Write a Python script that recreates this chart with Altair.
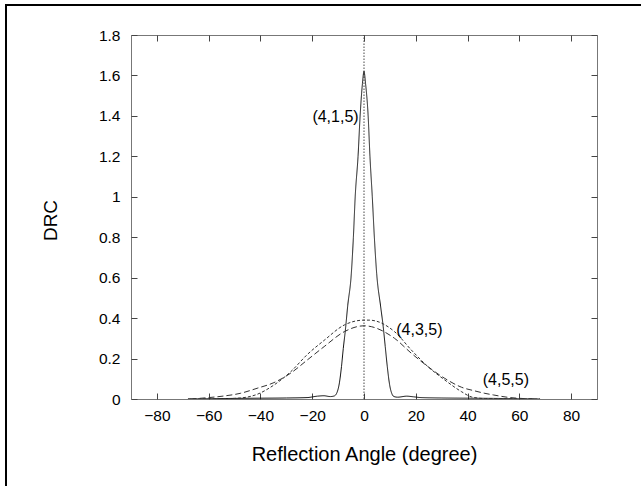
import altair as alt
import pandas as pd

# ---- data ----
series_names = ["(4,1,5)", "(4,3,5)", "(4,5,5)"]

angle_415 = [-68, -60, -50, -40, -30, -22, -18, -15.5, -13, -11.5, -10.5, -9.5, -8.7, -8, -7.2, -6.3,
             -4.9, -4.1, -3.4, -2.3, -1.5, -0.6, 0, 0.6, 1.6, 2.3, 3.2, 4.0, 4.9, 6.4, 7.4, 8.2, 9.0,
             9.9, 10.8, 11.6, 13, 16.5, 19, 22, 30, 40, 50, 60, 68]
drc_415 = [0, 0.001, 0.003, 0.004, 0.005, 0.007, 0.014, 0.016, 0.012, 0.015, 0.03, 0.08, 0.16, 0.25, 0.34, 0.46,
           0.62, 0.8, 1.0, 1.2, 1.4, 1.56, 1.62, 1.56, 1.4, 1.2, 1.0, 0.8, 0.62, 0.46, 0.36, 0.26, 0.16,
           0.07, 0.025, 0.012, 0.009, 0.014, 0.011, 0.007, 0.005, 0.004, 0.003, 0.001, 0]

angle_435 = [-68, -55, -47.8, -41.3, -34.8, -28.3, -21.9, -15.4, -7.6, 0, 2, 11.8, 18.3, 24.7, 31.2,
             37.7, 41.6, 47, 55, 68]
drc_435 = [0, 0.001, 0.005, 0.023, 0.069, 0.135, 0.22, 0.29, 0.366, 0.39, 0.39, 0.333, 0.242, 0.16, 0.094,
           0.036, 0.01, 0.002, 0.001, 0]

angle_455 = [-67, -60, -54, -47.8, -41.3, -34.8, -28.3, -21.9, -15.4, -7.6, 0, 11.8, 18.3, 24.7, 31.2,
             37.7, 42.8, 46.7, 50, 55.8, 62, 67]
drc_455 = [0, 0.007, 0.015, 0.028, 0.053, 0.081, 0.128, 0.193, 0.259, 0.333, 0.362, 0.30, 0.226, 0.16, 0.102,
           0.058, 0.04, 0.028, 0.02, 0.008, 0.002, 0]

label_text = ["(4,1,5)", "(4,3,5)", "(4,5,5)"]
label_angle = [-11, 21.4, 54.8]
label_drc = [1.395, 0.341, 0.094]

x_ticks = [-80, -60, -40, -20, 0, 20, 40, 60, 80]
y_ticks = [0, 0.2, 0.4, 0.6, 0.8, 1.0, 1.2, 1.4, 1.6, 1.8]

# ---- tables ----
rows = []
for name, xs, ys in zip(series_names, [angle_415, angle_435, angle_455], [drc_415, drc_435, drc_455]):
    for a, d in zip(xs, ys):
        rows.append({"series": name, "angle": a, "drc": d})
df = pd.DataFrame(rows)
labels_df = pd.DataFrame({"text": label_text, "angle": label_angle, "drc": label_drc})
zero_df = pd.DataFrame({"angle": [0], "lo": [0], "hi": [1.8]})

W, H = 466, 364
FONT = "Liberation Sans"

x_scale = alt.Scale(domain=[-90, 90], nice=False, zero=False)
y_scale = alt.Scale(domain=[0, 1.8], nice=False)

x_axis = alt.Axis(values=x_ticks, format="d", title="Reflection Angle (degree)",
                  ticks=False, tickSize=0, domain=False, labelPadding=9,
                  labelFont=FONT, labelFontSize=15.5, labelColor="black",
                  titleFont=FONT, titleFontSize=20, titleFontWeight="normal", titleColor="black",
                  titleY=55, titleBaseline="middle",
                  grid=True, gridColor="#444", gridWidth=1, gridDash=[6, H - 12, 6, 2000])
y_axis = alt.Axis(values=y_ticks, format="~g", title="DRC",
                  ticks=False, tickSize=0, domain=False, labelPadding=11,
                  labelFont=FONT, labelFontSize=15.5, labelColor="black",
                  titleFont=FONT, titleFontSize=19, titleFontWeight="normal", titleColor="black",
                  titleAngle=270, titleX=-81, titleY=185, titleAlign="center", titleBaseline="middle",
                  grid=True, gridColor="#444", gridWidth=1, gridDash=[6, W - 12, 6, 2000])

lines = alt.Chart(df).mark_line(strokeWidth=1, interpolate="monotone", clip=True).encode(
    x=alt.X("angle:Q", scale=x_scale, axis=x_axis),
    y=alt.Y("drc:Q", scale=y_scale, axis=y_axis),
    color=alt.Color("series:N", scale=alt.Scale(domain=series_names, range=["#111", "#333", "#333"]), legend=None),
    strokeDash=alt.StrokeDash("series:N",
                              scale=alt.Scale(domain=series_names, range=[[1, 0], [3, 2], [6, 3]]),
                              legend=None),
    order="angle:Q",
)

zero_rule = alt.Chart(zero_df).mark_rule(color="#333", strokeWidth=0.9, strokeDash=[1.5, 1.5]).encode(
    x=alt.X("angle:Q", scale=x_scale),
    y=alt.Y("lo:Q", scale=y_scale),
    y2="hi:Q",
)

texts = alt.Chart(labels_df).mark_text(font=FONT, fontSize=16, color="black",
                                       align="center", baseline="middle").encode(
    x=alt.X("angle:Q", scale=x_scale),
    y=alt.Y("drc:Q", scale=y_scale),
    text="text:N",
)

frame_top = alt.Chart(zero_df).mark_rule(color="black", strokeWidth=2).encode(
    x=alt.value(-126), x2=alt.value(W + 60), y=alt.value(-30))
frame_left = alt.Chart(zero_df).mark_rule(color="black", strokeWidth=2).encode(
    x=alt.value(-125), y=alt.value(-31), y2=alt.value(H + 100))

chart = alt.layer(zero_rule, lines, texts, frame_top, frame_left).properties(
    width=W, height=H,
    autosize=alt.AutoSizeParams(type="none"),
    padding={"left": 131, "top": 35, "right": 44, "bottom": 87},
    background="white",
).configure_view(stroke="#777", strokeWidth=1)

chart.save("out.html", embed_options={"renderer": "svg", "actions": False})
